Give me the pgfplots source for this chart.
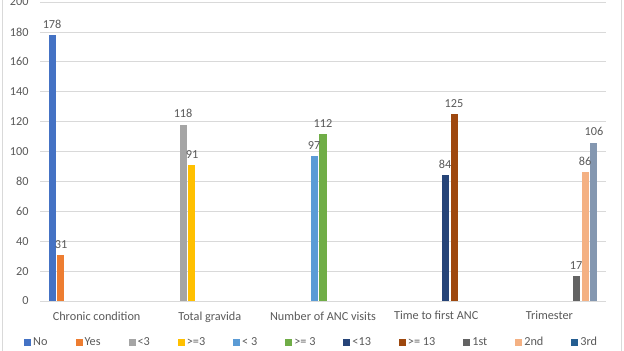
\documentclass[border=0pt]{standalone}
\usepackage{pgfplots}
\pgfplotsset{compat=1.18}
\usepackage{fontspec}
\setmainfont{Carlito}
\definecolor{cNo}{HTML}{4472C4}
\definecolor{cYes}{HTML}{ED7D31}
\definecolor{cA}{HTML}{A5A5A5}
\definecolor{cB}{HTML}{FFC000}
\definecolor{cC}{HTML}{5B9BD5}
\definecolor{cD}{HTML}{70AD47}
\definecolor{cE}{HTML}{264478}
\definecolor{cF}{HTML}{9E480E}
\definecolor{cG}{HTML}{636363}
\definecolor{cH}{HTML}{F4B183}
\definecolor{cI}{HTML}{8497B0}
\definecolor{cIleg}{HTML}{255E91}
\definecolor{txt}{HTML}{595959}
\definecolor{gridc}{HTML}{D9D9D9}
\begin{document}
\begin{tikzpicture}
\begin{axis}[
  at={(0,0)}, anchor=south west,
  scale only axis, width=566bp, height=299bp,
  ybar=1.9bp, bar width=7bp,
  xmin=-0.5, xmax=4.5, ymin=0, ymax=200,
  ytick={0,20,...,200},
  xtick={0,1,2,3,4},
  xticklabels={Chronic condition, Total gravida, Number of ANC visits, Time to first ANC, Trimester},
  major tick length=0pt,
  axis line style={draw=none},
  ymajorgrids=true, xmajorgrids=false,
  major grid style={draw=gridc, line width=0.8pt},
  font=\fontsize{12.3}{14}\selectfont,
  tick label style={text=txt, font=\fontsize{12.3}{14}\selectfont},
  xticklabel style={yshift=-7bp},
  yticklabel style={xshift=-8bp},
  /pgf/number format/assume math mode=true,
  nodes near coords,
  nodes near coords style={text=txt, font=\fontsize{12.3}{14}\selectfont, yshift=3bp},
  legend columns=11,
  legend style={draw=none, fill=none, at={(0.48,0)}, anchor=center, yshift=-41bp,
    font=\fontsize{12.3}{14}\selectfont, text=txt,
    /tikz/every even column/.append style={column sep=26bp}},
  legend image code/.code={\fill[#1] (0bp,-3.5bp) rectangle (7bp,3.5bp);},
]
\addplot[fill=cNo, draw=none] coordinates {(0,178)};
\addplot[fill=cYes, draw=none] coordinates {(0,31)};
\addplot[fill=cA, draw=none] coordinates {(1,118)};
\addplot[fill=cB, draw=none] coordinates {(1,91)};
\addplot[fill=cC, draw=none] coordinates {(2,97)};
\addplot[fill=cD, draw=none] coordinates {(2,112)};
\addplot[fill=cE, draw=none] coordinates {(3,84)};
\addplot[fill=cF, draw=none] coordinates {(3,125)};
\addplot[fill=cG, draw=none] coordinates {(4,17)};
\addplot[fill=cH, draw=none] coordinates {(4,86)};
\addplot[fill=cI, draw=none, legend image code/.code={\fill[cIleg] (0bp,-3.5bp) rectangle (7bp,3.5bp);}] coordinates {(4,106)};
\legend{No, Yes, <3, >=3, < 3, >= 3, <13, >= 13, 1st, 2nd, 3rd}
\end{axis}
\draw[gridc, line width=0.8pt] (-38bp,-50bp) -- (-38bp,301bp);
\draw[gridc, line width=0.8pt] (581bp,-50bp) -- (581bp,301bp);
\pgfresetboundingbox
\path[use as bounding box] (-40bp,-50bp) rectangle (584bp,301bp);
\end{tikzpicture}
\end{document}
